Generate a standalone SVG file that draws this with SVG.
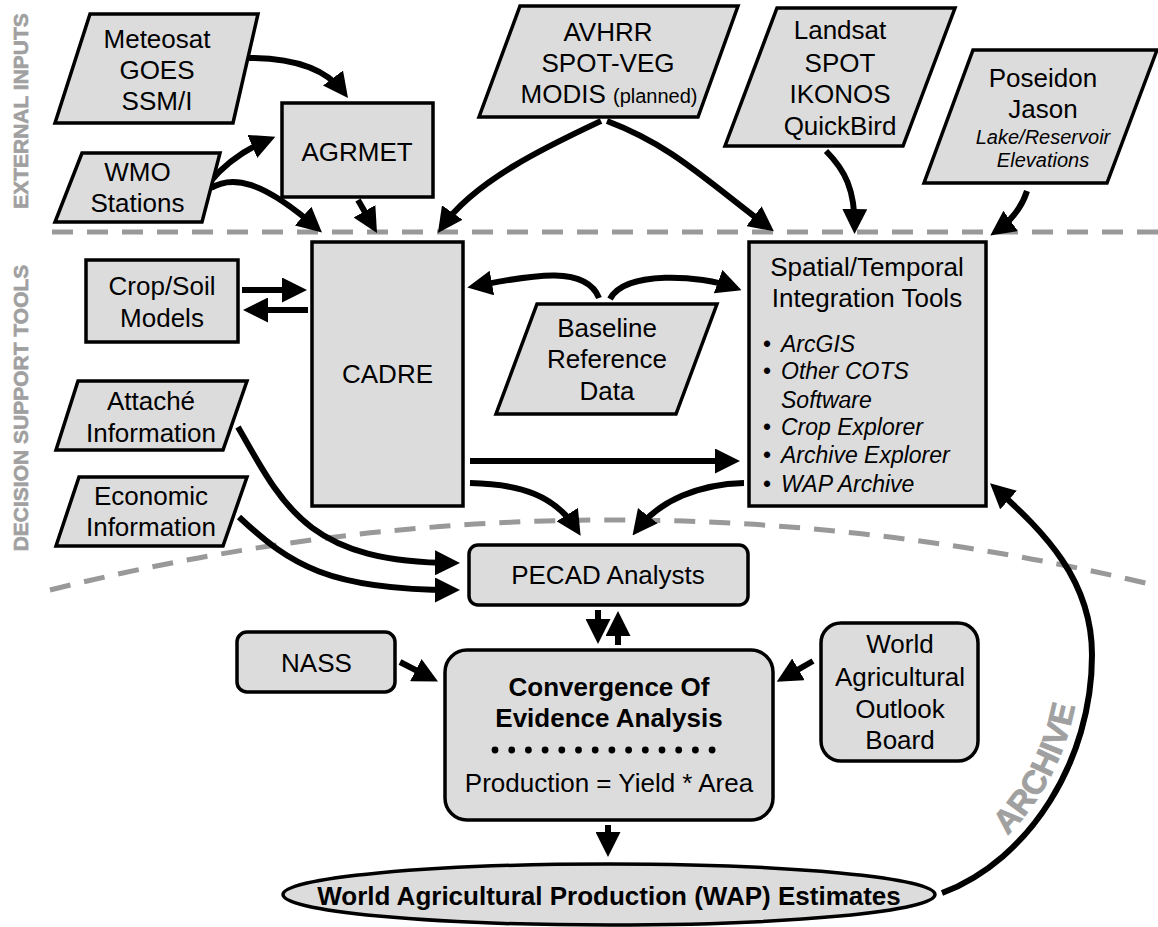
<svg xmlns="http://www.w3.org/2000/svg" width="1158" height="927" viewBox="0 0 1158 927">
<style>
text{font-family:"Liberation Sans",Arial,Helvetica,sans-serif;font-size:26px;fill:#000;text-anchor:middle}
.node{fill:#dcdcdc;stroke:#000;stroke-width:3.5}
.conn{fill:none;stroke:#000;stroke-width:6;marker-end:url(#ah)}
.dash{fill:none;stroke:#999;stroke-width:5;stroke-dasharray:21 14}
text.side{fill:#a0a0a0;stroke:#a0a0a0;stroke-width:0.6;font-weight:700;font-size:21px}
.it{font-style:italic;font-size:23px}
.sm{font-size:20px}
.b{font-weight:bold}
.lft{text-anchor:start}
</style>
<defs>
<marker id="ah" viewBox="0 0 25 25" markerWidth="25" markerHeight="25" refX="18" refY="12.5" orient="auto" markerUnits="userSpaceOnUse">
<path d="M0,0 L25,12.5 L0,25 z" fill="#000"/>
</marker>
<path id="archPath" d="M936,881 C1023,849 1080,756 1080,655"/>
</defs>
<rect width="1158" height="927" fill="#fff"/>

<g id="zones">
<path class="dash" d="M52,232 L1158,232"/>
<path class="dash" d="M50,590 Q604,452 1158,586"/>
<text class="side" font-weight="bold" transform="translate(28,111) rotate(-90)">EXTERNAL INPUTS</text>
<text class="side" font-weight="bold" transform="translate(28,408) rotate(-90)">DECISION SUPPORT TOOLS</text>
</g>

<g id="connectors">
<path class="conn" d="M249,58 Q318,58 343.8,92.4"/>
<path class="conn" d="M209,183 Q232,155 268.9,139.4"/>
<path class="conn" d="M211,188 C232,175 262,180 316.7,227.9"/>
<path class="conn" d="M358,200 L373.5,226.9"/>
<path class="conn" d="M601,121 C550,145 475,180 441.9,227.2"/>
<path class="conn" d="M607,121 C670,145 700,175 768.3,227.1"/>
<path class="conn" d="M826,151 C845,170 855,190 854.6,227"/>
<path class="conn" d="M1027,191 C1022,207 1012,220 996,231.4"/>
<path class="conn" d="M242,290 L300,290"/>
<path class="conn" d="M308,310 L250,310"/>
<path class="conn" d="M599,298 C585,262 520,278 474.2,286.2"/>
<path class="conn" d="M610,299 C625,270 700,275 735,287.8"/>
<path class="conn" d="M470,461 L733,461"/>
<path class="conn" d="M470,483 C520,484 555,495 576.9,529.8"/>
<path class="conn" d="M744,483 C700,484 660,500 636.8,529.9"/>
<path class="conn" d="M238,427 C285,510 310,562 453,563"/>
<path class="conn" d="M239,517 C290,565 330,590 453,590"/>
<path class="conn" d="M598,610 L598,637"/>
<path class="conn" d="M618,645 L618,618"/>
<path class="conn" d="M400,662 L431.8,678.4"/>
<path class="conn" d="M813,661 L782.8,678.3"/>
<path class="conn" d="M608,825 L608,850"/>
<path class="conn" d="M942,893 C1030,860 1092,760 1092,655 C1092,580 1045,533 995.2,488"/>
<text class="side" font-weight="bold" style="font-size:33px;stroke-width:0.8"><textPath href="#archPath" startOffset="56%">ARCHIVE</textPath></text>
</g>

<g id="meteosat">
<polygon class="node" points="90,14 258,14 233,123 55,123"/>
<text x="157" y="48">Meteosat</text>
<text x="157" y="79">GOES</text>
<text x="157" y="110">SSM/I</text>
</g>
<g id="wmo">
<polygon class="node" points="82,153 220,153 202,222 55,222"/>
<text x="137.5" y="181">WMO</text>
<text x="137.5" y="212">Stations</text>
</g>
<g id="agrmet">
<rect class="node" x="282" y="103" width="151" height="94"/>
<text x="357" y="161">AGRMET</text>
</g>
<g id="avhrr">
<polygon class="node" points="520,6 738,6 698,117 479,117"/>
<text x="608" y="41">AVHRR</text>
<text x="608" y="72">SPOT-VEG</text>
<text x="609" y="103">MODIS <tspan class="sm">(planned)</tspan></text>
</g>
<g id="landsat">
<polygon class="node" points="777,8 955,8 903,146 725,146"/>
<text x="840" y="39">Landsat</text>
<text x="840" y="72">SPOT</text>
<text x="840" y="103">IKONOS</text>
<text x="840" y="135">QuickBird</text>
</g>
<g id="poseidon">
<polygon class="node" points="973,50 1157,50 1107,183 924,183"/>
<text x="1043" y="87">Poseidon</text>
<text x="1043" y="118">Jason</text>
<text class="sm" x="1043" y="144" font-style="italic">Lake/Reservoir</text>
<text class="sm" x="1043" y="167" font-style="italic">Elevations</text>
</g>
<g id="cropsoil">
<rect class="node" x="86" y="260" width="152" height="82"/>
<text x="162" y="295">Crop/Soil</text>
<text x="162" y="327">Models</text>
</g>
<g id="cadre">
<rect class="node" x="312" y="242" width="151" height="264"/>
<text x="387.5" y="383">CADRE</text>
</g>
<g id="baseline">
<polygon class="node" points="537,304 717,304 676,414 496,414"/>
<text x="607" y="337">Baseline</text>
<text x="607" y="368">Reference</text>
<text x="607" y="400">Data</text>
</g>
<g id="spatial">
<rect class="node" x="749" y="242" width="237" height="264"/>
<text x="867" y="276">Spatial/Temporal</text>
<text x="867" y="307">Integration Tools</text>
<text class="it lft" x="763" y="352"><tspan font-style="normal">•</tspan><tspan x="781">ArcGIS</tspan></text>
<text class="it lft" x="763" y="379"><tspan font-style="normal">•</tspan><tspan x="781">Other COTS</tspan></text>
<text class="it lft" x="781" y="408">Software</text>
<text class="it lft" x="763" y="435"><tspan font-style="normal">•</tspan><tspan x="781">Crop Explorer</tspan></text>
<text class="it lft" x="763" y="463"><tspan font-style="normal">•</tspan><tspan x="781">Archive Explorer</tspan></text>
<text class="it lft" x="763" y="492"><tspan font-style="normal">•</tspan><tspan x="781">WAP Archive</tspan></text>
</g>
<g id="attache">
<polygon class="node" points="78,381 247,381 223,450 56,450"/>
<text x="151" y="410">Attaché</text>
<text x="151" y="442">Information</text>
</g>
<g id="economic">
<polygon class="node" points="79,477 247,477 223,546 56,546"/>
<text x="151" y="505">Economic</text>
<text x="151" y="536">Information</text>
</g>
<g id="pecad">
<rect class="node" x="469" y="545" width="279" height="60" rx="9"/>
<text x="608" y="584">PECAD Analysts</text>
</g>
<g id="nass">
<rect class="node" x="237" y="632" width="158" height="60" rx="10"/>
<text x="316.5" y="672">NASS</text>
</g>
<g id="convergence">
<rect class="node" x="445" y="650" width="328" height="170" rx="22"/>
<text class="b" x="609" y="696">Convergence Of</text>
<text class="b" x="609" y="727">Evidence Analysis</text>
<g fill="#000">
<circle cx="495" cy="750" r="3.4"/><circle cx="511.7" cy="750" r="3.4"/><circle cx="528.4" cy="750" r="3.4"/><circle cx="545.1" cy="750" r="3.4"/><circle cx="561.8" cy="750" r="3.4"/><circle cx="578.5" cy="750" r="3.4"/><circle cx="595.2" cy="750" r="3.4"/><circle cx="611.9" cy="750" r="3.4"/><circle cx="628.6" cy="750" r="3.4"/><circle cx="645.3" cy="750" r="3.4"/><circle cx="662" cy="750" r="3.4"/><circle cx="678.7" cy="750" r="3.4"/><circle cx="695.4" cy="750" r="3.4"/><circle cx="712.1" cy="750" r="3.4"/>
</g>
<text x="609" y="792">Production = Yield * Area</text>
</g>
<g id="waob">
<rect class="node" x="821" y="623" width="157" height="138" rx="20"/>
<text x="900" y="653">World</text>
<text x="900" y="686">Agricultural</text>
<text x="900" y="718">Outlook</text>
<text x="900" y="749">Board</text>
</g>
<g id="wap">
<ellipse class="node" cx="609" cy="894.5" rx="326" ry="30.5"/>
<text class="b" x="609" y="905">World Agricultural Production (WAP) Estimates</text>
</g>
</svg>
